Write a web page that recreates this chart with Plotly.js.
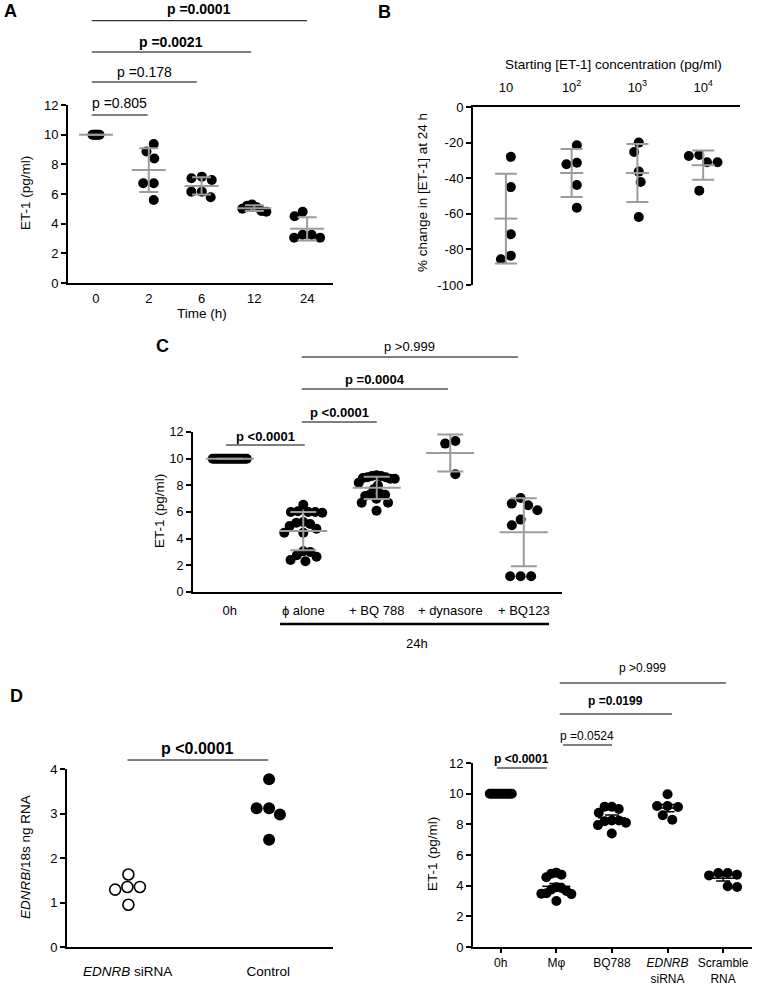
<!DOCTYPE html>
<html><head><meta charset="utf-8">
<script src="https://cdn.plot.ly/plotly-3.0.1.min.js"></script>
<style>html,body{margin:0;padding:0;background:#fff}#chart{width:757px;height:987px}</style>
</head><body><div id="chart"></div>
<script>
// ---------- Panel A data ----------
const A_times = ['0', '2', '6', '12', '24'];
const A_t0  = [10, 10, 10, 10, 10, 10];
const A_t2  = [9.37, 8.86, 8.39, 6.73, 6.73, 5.6];
const A_t6  = [7.06, 6.94, 7.17, 6.16, 5.78, 6.16];
const A_t12 = [5.2, 5.3, 5.0, 4.8, 4.85, 5.1];
const A_t24 = [4.8, 4.5, 3.25, 3.05, 3.05, 3.25];
// ---------- Panel B data ----------
const B_conc = ['10', '10<sup>2</sup>', '10<sup>3</sup>', '10<sup>4</sup>'];
const B_c1 = [-28, -45, -71.5, -85.5, -83.5];
const B_c2 = [-21.5, -31.3, -32.2, -43.8, -56.6];
const B_c3 = [-20, -25.3, -36.3, -42.1, -61.8];
const B_c4 = [-27, -31, -31, -27.5, -47];
const B_ytickvals = [0, -20, -40, -60, -80, -100];
const B_yticktext = ['0', '-20', '-40', '-60', '-80', '-100'];
// ---------- Panel C data ----------
const C_groups = ['0h', 'ϕ alone', '+ BQ 788', '+ dynasore', '+ BQ123'];
const C_0h = [10, 10, 10, 10, 10, 10, 10, 10, 10, 10, 10, 10, 10, 10, 10, 10, 10, 10, 10];
const C_alone = [6.55, 6.05, 6.0, 6.0, 5.95, 6.0, 5.25, 5.1, 5.2, 4.95, 4.45, 4.45, 4.75, 3.0, 3.05, 2.65, 2.75, 2.3, 2.4];
const C_bq788 = [8.75, 8.7, 8.6, 8.55, 8.5, 8.5, 8.6, 8.7, 8.2, 8.0, 7.7, 7.35, 7.3, 7.2, 7.3, 7.0, 6.7, 6.7, 6.1];
const C_dyn = [11.33, 11.13, 8.83];
const C_bq123 = [7.05, 6.63, 6.5, 6.13, 5.43, 5.0, 1.18, 1.18, 1.18];
// ---------- Panel D (left) data ----------
const D_groups = ['<i>EDNRB</i> siRNA', 'Control'];
const D_sirna = [1.35, 1.35, 1.29, 1.63, 0.95];
const D_ctrl = [3.77, 3.12, 3.12, 2.98, 2.41];
// ---------- Panel D (right) data ----------
const E_groups = ['0h', 'Mφ', 'BQ788', '<i>EDNRB</i><br>siRNA', 'Scramble<br>RNA'];
const E_0h = [10, 10, 10, 10, 10, 10, 10, 10, 10, 10, 10, 10];
const E_mphi = [4.85, 4.55, 4.72, 4.78, 3.65, 3.48, 3.75, 3.85, 3.45, 3.5, 3.0, 3.9];
const E_bq788 = [9.15, 9.0, 8.75, 9.15, 8.25, 8.1, 8.2, 8.25, 7.95, 7.4];
const E_sirna = [9.96, 9.2, 9.13, 9.2, 8.3, 8.59];
const E_scr = [4.83, 4.67, 4.72, 4.83, 3.91, 3.96];

// ---------- geometry / style ----------
const W = 757, H = 987;
const FONT = 'Liberation Sans, Arial, Helvetica, sans-serif';
const GRAY = '#9c9c9c';
const geo = {
  A: {x0: 68, x1: 333, y0: 105, y1: 283, xr: [-0.53, 4.49], yr: [0, 12]},
  B: {x0: 473, x1: 740, y0: 107, y1: 285, xr: [-0.5, 3.56], yr: [-100, 0]},
  C: {x0: 193, x1: 562, y0: 432, y1: 592, xr: [-0.5, 4.52], yr: [0, 12]},
  D: {x0: 67, x1: 333, y0: 769, y1: 947, xr: [-0.43, 1.46], yr: [0, 4]},
  E: {x0: 473, x1: 752, y0: 763, y1: 947, xr: [-0.5, 4.52], yr: [0, 12]}
};
for (const k in geo) {
  const g = geo[k];
  g.pxX = (g.x1 - g.x0) / (g.xr[1] - g.xr[0]);
  g.pxY = (g.y1 - g.y0) / (g.yr[1] - g.yr[0]);
  g.dx = [g.x0 / W, g.x1 / W];
  g.dy = [1 - g.y1 / H, 1 - g.y0 / H];
}
const px2x = p => p / W, py2y = p => 1 - p / H;

function swarm(vals, center, g, d, cap) {
  const idx = vals.map((v, i) => i).sort((a, b) => vals[b] - vals[a]);
  const placed = [], off = new Array(vals.length).fill(0);
  let lastSign = 1;
  for (const i of idx) {
    const yv = vals[i] * g.pxY;
    const cands = [0];
    for (const p of placed) {
      const dy = Math.abs(yv - p.y);
      if (dy < d) { const dx = Math.sqrt(d * d - dy * dy); cands.push(p.x + dx, p.x - dx); }
    }
    const ok = cands.filter(c => placed.every(q => (c - q.x) ** 2 + (yv - q.y) ** 2 >= d * d - 0.01));
    ok.sort((a, b) => {
      const da = Math.abs(a) - Math.abs(b);
      if (Math.abs(da) > 1e-6) return da;
      return (a * lastSign > 0) ? 1 : -1;
    });
    const c = ok[0];
    if (Math.abs(c) > 1e-9) lastSign = Math.sign(c);
    placed.push({x: c, y: yv});
    off[i] = c;
  }
  const mn = Math.min(...off), mx = Math.max(...off), sh = (mn + mx) / 2;
  for (let k = 0; k < off.length; k++) off[k] -= sh;
  const m = Math.max(...off.map(Math.abs));
  const s = m > cap ? cap / m : 1;
  return off.map(o => center + o * s / g.pxX);
}
function stats(v) {
  const n = v.length, m = v.reduce((a, b) => a + b, 0) / n;
  const sd = Math.sqrt(v.reduce((a, b) => a + (b - m) ** 2, 0) / (n - 1));
  return {m, sd, sem: sd / Math.sqrt(n)};
}
const traces = [];
function axN(n) { return n === 1 ? '' : String(n); }
function dots(groups, g, n, opt) {
  const xs = [], ys = [];
  groups.forEach((vals, i) => {
    const xo = swarm(vals, i, g, opt.d, opt.caps[i]);
    xs.push(...xo); ys.push(...vals);
  });
  traces.push({type: 'scatter', mode: 'markers', x: xs, y: ys, xaxis: 'x' + axN(n), yaxis: 'y' + axN(n),
    cliponaxis: false, hoverinfo: 'skip', showlegend: false,
    marker: {size: opt.size, symbol: opt.symbol || 'circle', color: '#000', line: {color: '#000', width: opt.lw || 0}}});
}
function means(groups, n, opt) {
  const st = groups.map(stats);
  traces.push({type: 'scatter', mode: 'markers', x: groups.map((v, i) => i), y: st.map(s => s.m),
    xaxis: 'x' + axN(n), yaxis: 'y' + axN(n), cliponaxis: false, hoverinfo: 'skip', showlegend: false,
    marker: {symbol: 'line-ew', size: opt.len / 1.4, color: opt.color, line: {color: opt.color, width: opt.th}},
    error_y: {type: 'data', array: st.map(s => opt.sem ? s.sem : s.sd), visible: true, color: opt.color, thickness: opt.th, width: opt.cap}});
}

// Panel A
dots([A_t0, A_t2, A_t6, A_t12, A_t24], geo.A, 1, {size: 10, d: 10.5, caps: [3.5, 8, 11, 12, 13]});
means([A_t0, A_t2, A_t6, A_t12, A_t24], 1, {len: 34, color: GRAY, th: 2, cap: 9.5});
// Panel B
dots([B_c1, B_c2, B_c3, B_c4], geo.B, 2, {size: 10, d: 10.5, caps: [8, 8, 8, 17]});
means([B_c1, B_c2, B_c3, B_c4], 2, {len: 23, color: GRAY, th: 2, cap: 11});
// Panel C
dots([C_0h, C_alone, C_bq788, C_dyn, C_bq123], geo.C, 3, {size: 10, d: 10.5, caps: [17, 19, 18, 7, 16]});
means([C_0h, C_alone, C_bq788, C_dyn, C_bq123], 3, {len: 48, color: GRAY, th: 2, cap: 13});
// Panel D left
(function () {
  const g = geo.D;
  const x1 = swarm(D_sirna, 0, g, 12.5, 17), x2 = swarm(D_ctrl, 1, g, 12.5, 16);
  traces.push({type: 'scatter', mode: 'markers', x: x1, y: D_sirna, xaxis: 'x4', yaxis: 'y4', cliponaxis: false,
    hoverinfo: 'skip', showlegend: false, marker: {size: 11, symbol: 'circle-open', color: '#000', line: {color: '#000', width: 1.6}}});
  traces.push({type: 'scatter', mode: 'markers', x: x2, y: D_ctrl, xaxis: 'x4', yaxis: 'y4', cliponaxis: false,
    hoverinfo: 'skip', showlegend: false, marker: {size: 12, symbol: 'circle', color: '#000'}});
})();
// Panel D right
dots([E_0h, E_mphi, E_bq788, E_sirna, E_scr], geo.E, 5, {size: 10, d: 10.5, caps: [11, 15, 14, 12, 14]});
means([E_0h, E_mphi, E_bq788, E_sirna, E_scr], 5, {len: 28, color: '#000', th: 1.5, cap: 7, sem: true});

// ---------- axes ----------
function axis(extra) {
  return Object.assign({showline: true, linecolor: '#000', linewidth: 2, ticks: 'outside', ticklen: 5, tickwidth: 2,
    tickcolor: '#000', showgrid: false, zeroline: false, fixedrange: true,
    tickfont: {family: FONT, size: 13, color: '#000'}}, extra);
}
const layout = {
  width: W, height: H, margin: {l: 0, r: 0, t: 0, b: 0}, paper_bgcolor: '#fff', plot_bgcolor: 'rgba(0,0,0,0)',
  font: {family: FONT, color: '#000'}, showlegend: false,
  xaxis: axis({domain: geo.A.dx, range: geo.A.xr, anchor: 'y', tickvals: [0, 1, 2, 3, 4], ticktext: A_times, ticks: '', ticklabelstandoff: 2}),
  yaxis: axis({domain: geo.A.dy, range: geo.A.yr, anchor: 'x', dtick: 2}),
  xaxis2: axis({domain: geo.B.dx, range: geo.B.xr, anchor: 'y2', side: 'top', tickvals: [0, 1, 2, 3], ticktext: B_conc, ticks: '', ticklabelstandoff: 8}),
  yaxis2: axis({domain: geo.B.dy, range: geo.B.yr, anchor: 'x2', tickvals: B_ytickvals, ticktext: B_yticktext}),
  xaxis3: axis({domain: geo.C.dx, range: geo.C.xr, anchor: 'y3', tickvals: [0, 1, 2, 3, 4], ticktext: C_groups, ticks: '', ticklabelstandoff: 5}),
  yaxis3: axis({domain: geo.C.dy, range: geo.C.yr, anchor: 'x3', dtick: 2, tickfont: {family: FONT, size: 12.5, color: '#000'}}),
  xaxis4: axis({domain: geo.D.dx, range: geo.D.xr, anchor: 'y4', tickvals: [0, 1], ticktext: D_groups, ticks: '', ticklabelstandoff: 11, tickfont: {family: FONT, size: 13.5, color: '#000'}}),
  yaxis4: axis({domain: geo.D.dy, range: geo.D.yr, anchor: 'x4', dtick: 1}),
  xaxis5: axis({domain: geo.E.dx, range: geo.E.xr, anchor: 'y5', tickvals: [0, 1, 2, 3, 4], ticktext: E_groups, ticklen: 4, ticklabelstandoff: 0, tickfont: {family: FONT, size: 12, color: '#000'}}),
  yaxis5: axis({domain: geo.E.dy, range: geo.E.yr, anchor: 'x5', dtick: 2}),
  shapes: [], annotations: []
};

function txt(x, y, text, o) {
  o = o || {};
  layout.annotations.push({x: x, y: y, xref: o.xref || 'paper', yref: 'paper', text: text, showarrow: false,
    xanchor: o.xanchor || 'center', yanchor: 'middle', font: {family: FONT, size: o.size || 13, color: '#000'},
    textangle: o.angle || 0});
}
function bracket(n, list, fsDefault) {
  const xr = 'x' + axN(n);
  list.forEach(b => {
    layout.shapes.push({type: 'line', xref: xr, yref: 'paper', x0: b.x0, x1: b.x1, y0: py2y(b.y), y1: py2y(b.y),
      line: {color: '#000', width: 1}});
    txt((b.x0 + b.x1) / 2, py2y(b.ty), b.b ? '<b>' + b.t + '</b>' : b.t, {xref: xr, size: b.fs || fsDefault});
  });
}
bracket(1, [
  {x0: -0.08, x1: 4.0, y: 20.7, ty: 9, t: 'p =0.0001', b: true},
  {x0: -0.08, x1: 2.94, y: 52, ty: 42, t: 'p =0.0021', b: true},
  {x0: -0.08, x1: 1.91, y: 82, ty: 72, t: 'p =0.178'},
  {x0: -0.08, x1: 0.98, y: 115, ty: 103, t: 'p =0.805'}
], 14);
bracket(3, [
  {x0: -0.05, x1: 1.02, y: 445, ty: 436, t: 'p <0.0001', b: true},
  {x0: 0.98, x1: 2.0, y: 422, ty: 412, t: 'p <0.0001', b: true},
  {x0: 0.98, x1: 2.97, y: 389, ty: 379, t: 'p =0.0004', b: true},
  {x0: 0.98, x1: 3.92, y: 357, ty: 346, t: 'p >0.999'}
], 13);
bracket(4, [{x0: 0, x1: 1, y: 760, ty: 748, t: 'p <0.0001', b: true}], 16);
bracket(5, [
  {x0: -0.07, x1: 0.83, y: 768, ty: 759, t: 'p <0.0001', b: true},
  {x0: 1.12, x1: 2.0, y: 745, ty: 736, t: 'p =0.0524'},
  {x0: 1.06, x1: 3.08, y: 714, ty: 701, t: 'p =0.0199', b: true},
  {x0: 1.06, x1: 4.05, y: 683, ty: 668, t: 'p >0.999'}
], 12);

// 24h group bar under panel C
layout.shapes.push({type: 'line', xref: 'paper', yref: 'paper', x0: px2x(280), x1: px2x(549), y0: py2y(624), y1: py2y(624), line: {color: '#000', width: 2.5}});
txt(px2x(417), py2y(643), '24h');

// axis titles
txt(px2x(202), py2y(313), 'Time (h)', {size: 13.5});
txt(px2x(26), py2y(193), 'ET-1 (pg/ml)', {angle: -90, size: 13.5});
txt(px2x(613), py2y(64), 'Starting [ET-1] concentration (pg/ml)', {size: 13.5});
txt(px2x(423), py2y(193), '% change in [ET-1] at 24 h', {angle: -90, size: 13.5});
txt(px2x(160), py2y(511), 'ET-1 (pg/ml)', {angle: -90, size: 13.5});
txt(px2x(25), py2y(857), '<i>EDNRB</i>/18s ng RNA', {angle: -90, size: 13.5});
txt(px2x(432), py2y(854), 'ET-1 (pg/ml)', {angle: -90, size: 13.5});

// panel letters
txt(px2x(2), py2y(11), '<b>A</b>', {xanchor: 'left', size: 18});
txt(px2x(376), py2y(12), '<b>B</b>', {xanchor: 'left', size: 18});
txt(px2x(154), py2y(346), '<b>C</b>', {xanchor: 'left', size: 18});
txt(px2x(8), py2y(696), '<b>D</b>', {xanchor: 'left', size: 18});

Plotly.newPlot('chart', traces, layout, {staticPlot: true, displayModeBar: false});
</script>
</body></html>
